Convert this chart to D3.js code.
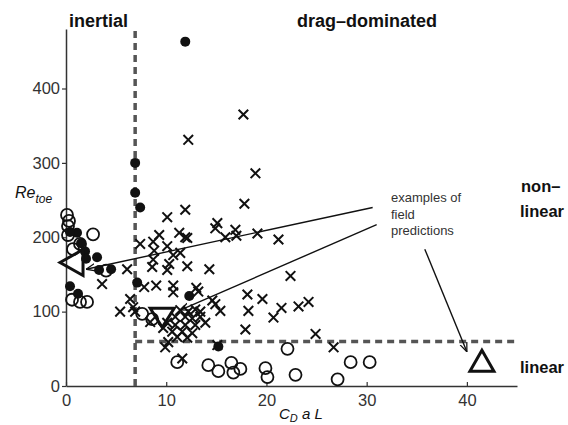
<!DOCTYPE html>
<html>
<head>
<meta charset="utf-8">
<script src="https://cdn.jsdelivr.net/npm/d3@7"></script>
<style>
  body { margin: 0; background: #fff; }
  svg { display: block; font-family: 'Liberation Sans', Arial, sans-serif; }
</style>
</head>
<body>
<div id="chart"></div>
<script>
const width = 568;
const height = 425;
const margin = { left: 66, right: 51, top: 29, bottom: 39 };

const xTicks = [0, 10, 20, 30, 40];
const yTicks = [0, 100, 200, 300, 400];

// [C_D a L, Re_toe]
const crosses = [
  [17.7, 365], [12.2, 331], [18.9, 286], [17.8, 245], [11.9, 237], [10.1, 227],
  [15.1, 219], [14.9, 212], [16.9, 210], [17.0, 202], [15.9, 200], [19.1, 205], [21.2, 197],
  [7.4, 191], [8.7, 194], [9.3, 203], [11.3, 206], [11.9, 200], [12.1, 199], [10.1, 188],
  [8.8, 182], [11.4, 179], [10.7, 176], [8.7, 170], [8.6, 160], [10.3, 164], [10.1, 156],
  [12.1, 161], [14.3, 157], [6.1, 157], [22.4, 148], [3.6, 137], [7.8, 133], [9.0, 135],
  [10.7, 135], [10.7, 126], [13.0, 132], [13.2, 127], [18.1, 123], [19.6, 117], [6.4, 117],
  [6.7, 106], [5.4, 100], [14.6, 115], [14.9, 110], [15.4, 101], [18.2, 101], [20.7, 92],
  [21.5, 105], [23.2, 107], [24.2, 113], [17.9, 76], [24.9, 70], [26.7, 52], [9.9, 52],
  [11.6, 37], [15.1, 55], [11.4, 102], [12.2, 100], [12.9, 103], [13.4, 100], [10.9, 93],
  [11.9, 93], [12.6, 91], [13.4, 93], [13.9, 85], [10.1, 85], [10.9, 82], [11.9, 82],
  [12.9, 82], [9.7, 78], [10.6, 73], [11.6, 73], [12.6, 71], [11.1, 66], [12.1, 65],
  [10.2, 59], [8.4, 86], [6.9, 100]
];

const filled = [
  [11.9, 463], [6.9, 300], [6.9, 260], [7.4, 240], [7.1, 139], [12.3, 121], [15.2, 53],
  [1.1, 206], [0.4, 207], [1.5, 192], [1.9, 181], [3.1, 173], [2.0, 171], [0.4, 134],
  [1.2, 124], [4.5, 157], [3.3, 156]
];

const open = [
  [0.1, 230], [0.3, 222], [0.2, 215], [0.2, 203], [2.7, 204], [1.4, 191], [0.7, 184],
  [4.0, 155], [0.6, 116], [1.4, 113], [2.1, 113], [7.6, 97], [8.6, 90],
  [11.1, 32], [14.2, 28], [15.2, 20], [16.5, 31], [16.7, 18], [17.4, 23], [19.9, 24],
  [20.1, 12], [22.1, 50], [22.9, 15], [27.1, 9], [28.4, 32], [30.3, 32]
];

// field predictions: [x, y, direction]
const predictions = [
  [1.0, 166, 'left'], [9.6, 95, 'down'], [41.5, 32, 'up']
];

// arrows: [fromX, fromY, toX, toY]
const arrows = [
  [30.6, 240, 2.0, 157],
  [31.0, 217, 11.4, 102],
  [35.8, 184, 40.0, 46]
];

const inertialLimit = 6.9;
const linearLimit = 60;

const svg = d3.select('#chart')
  .append('svg')
  .attr('width', width)
  .attr('height', height);

const x = d3.scaleLinear().domain([0, 45]).range([margin.left, width - margin.right]);
const y = d3.scaleLinear().domain([0, 480]).range([height - margin.bottom, margin.top]);

svg.append('defs').append('marker')
  .attr('id', 'head')
  .attr('viewBox', '0 0 10 10')
  .attr('refX', 10).attr('refY', 5)
  .attr('markerWidth', 9).attr('markerHeight', 9)
  .attr('markerUnits', 'userSpaceOnUse')
  .attr('orient', 'auto')
  .append('path')
  .attr('d', 'M0,1 L10,5 L0,9')
  .attr('fill', 'none')
  .attr('stroke', '#111')
  .attr('stroke-width', 1.4);

// axes
const xAxis = svg.append('g')
  .attr('transform', `translate(0, ${y(0)})`)
  .call(d3.axisBottom(x).tickValues(xTicks).tickSizeInner(-4).tickSizeOuter(0).tickPadding(8));
const yAxis = svg.append('g')
  .attr('transform', `translate(${x(0)}, 0)`)
  .call(d3.axisLeft(y).tickValues(yTicks).tickSizeInner(4).tickSizeOuter(0).tickPadding(2));

[xAxis, yAxis].forEach((g) => {
  g.select('.domain').attr('stroke', '#333').attr('stroke-width', 1.5);
  g.selectAll('.tick line').attr('stroke', '#333').attr('stroke-width', 1.2);
  g.selectAll('.tick text').attr('fill', '#333').style('font-size', '16.5px');
});

// regime boundaries
svg.append('line')
  .attr('x1', x(inertialLimit)).attr('x2', x(inertialLimit))
  .attr('y1', y(0)).attr('y2', y(480))
  .attr('stroke', '#555').attr('stroke-width', 3.5).attr('stroke-dasharray', '7,5');
svg.append('line')
  .attr('x1', x(inertialLimit)).attr('x2', x(45))
  .attr('y1', y(linearLimit)).attr('y2', y(linearLimit))
  .attr('stroke', '#555').attr('stroke-width', 3.5).attr('stroke-dasharray', '7,5');

// open circles
svg.append('g')
  .selectAll('circle')
  .data(open)
  .join('circle')
  .attr('cx', (d) => x(d[0]))
  .attr('cy', (d) => y(d[1]))
  .attr('r', 6)
  .attr('fill', 'none')
  .attr('stroke', '#111')
  .attr('stroke-width', 1.8);

// crosses
const s = 4.8;
svg.append('g')
  .selectAll('path')
  .data(crosses)
  .join('path')
  .attr('d', (d) => {
    const cx = x(d[0]);
    const cy = y(d[1]);
    return `M${cx - s},${cy - s}L${cx + s},${cy + s}M${cx - s},${cy + s}L${cx + s},${cy - s}`;
  })
  .attr('stroke', '#111')
  .attr('stroke-width', 2)
  .attr('fill', 'none');

// filled circles
svg.append('g')
  .selectAll('circle')
  .data(filled)
  .join('circle')
  .attr('cx', (d) => x(d[0]))
  .attr('cy', (d) => y(d[1]))
  .attr('r', 5)
  .attr('fill', '#111');

// prediction triangles
const tri = (d) => {
  const cx = x(d[0]);
  const cy = y(d[1]);
  if (d[2] === 'left') {
    return `M${cx - 16},${cy}L${cx + 7},${cy - 13}L${cx + 7},${cy + 13}Z`;
  }
  if (d[2] === 'down') {
    return `M${cx - 12},${cy - 7}L${cx + 12},${cy - 7}L${cx},${cy + 12}Z`;
  }
  return `M${cx},${cy - 12}L${cx + 12},${cy + 9}L${cx - 12},${cy + 9}Z`;
};
svg.append('g')
  .selectAll('path')
  .data(predictions)
  .join('path')
  .attr('d', tri)
  .attr('fill', 'none')
  .attr('stroke', '#111')
  .attr('stroke-width', 3)
  .attr('stroke-linejoin', 'miter');

// arrows
svg.append('g')
  .selectAll('line')
  .data(arrows)
  .join('line')
  .attr('x1', (d) => x(d[0])).attr('y1', (d) => y(d[1]))
  .attr('x2', (d) => x(d[2])).attr('y2', (d) => y(d[3]))
  .attr('stroke', '#111')
  .attr('stroke-width', 1.4)
  .attr('marker-end', 'url(#head)');

// annotation text
const note = svg.append('text')
  .attr('x', 391).attr('y', 202)
  .attr('fill', '#333')
  .style('font-size', '13px');
['examples of', 'field', 'predictions'].forEach((t, i) => {
  note.append('tspan').attr('x', 391).attr('dy', i === 0 ? 0 : 16.5).text(t);
});

const bold = (t, px, py, size = 18) => svg.append('text')
  .attr('x', px).attr('y', py)
  .attr('fill', '#111')
  .style('font-size', `${size}px`)
  .style('font-weight', 'bold')
  .text(t);

bold('inertial', 69, 27);
bold('drag\u2013dominated', 297, 27);
bold('non\u2013', 521, 192, 16.5);
bold('linear', 520, 217, 16.5);
bold('linear', 520, 373, 16.5);

// axis labels
const ylab = svg.append('text')
  .attr('x', 15).attr('y', 198)
  .attr('fill', '#111')
  .style('font-size', '16px')
  .style('font-style', 'italic');
ylab.append('tspan').text('Re');
ylab.append('tspan').attr('dy', 5).style('font-size', '12px').text('toe');

const xlab = svg.append('text')
  .attr('x', 279).attr('y', 419)
  .attr('fill', '#111')
  .style('font-size', '15px')
  .style('font-style', 'italic');
xlab.append('tspan').text('C');
xlab.append('tspan').attr('dy', 3).style('font-size', '11px').text('D');
xlab.append('tspan').attr('dy', -3).text(' a L');
</script>
</body>
</html>
